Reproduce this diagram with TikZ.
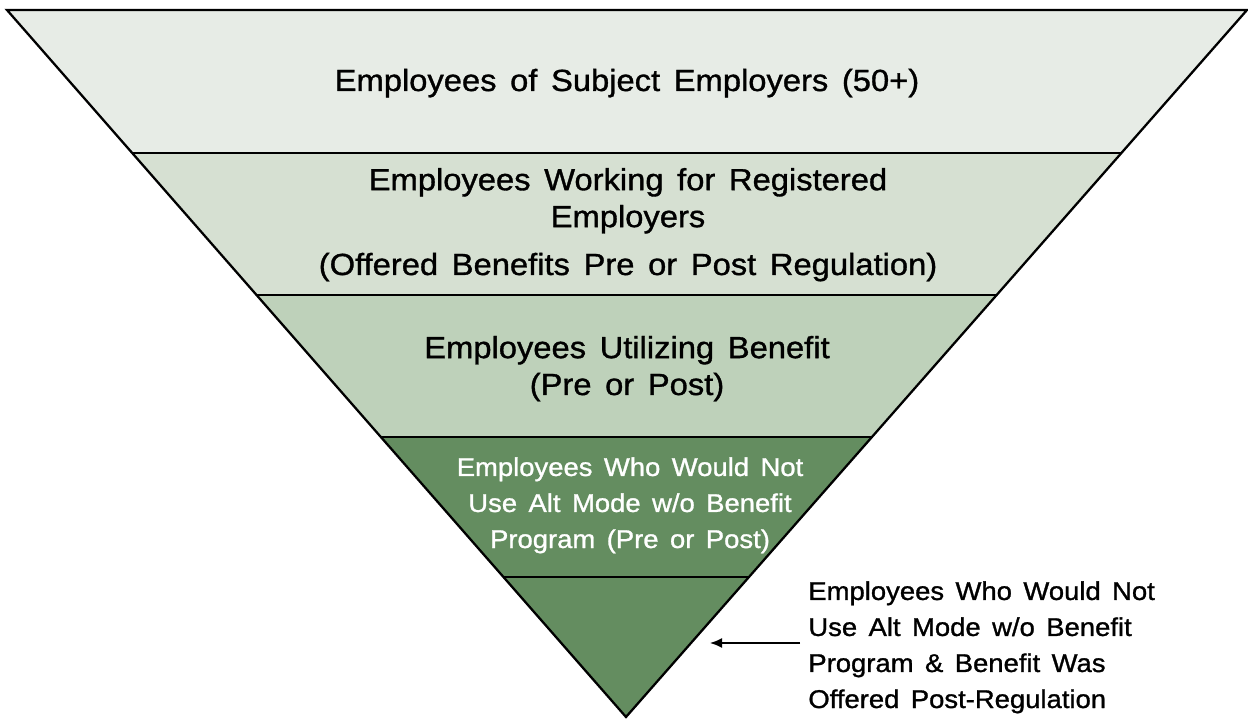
\documentclass[tikz,border=0pt]{standalone}
\usepackage{fontspec}
\setmainfont{Liberation Sans}[WordSpace=1.5,FakeStretch=1.07,FakeBold=1.1]
\usetikzlibrary{arrows.meta,calc,positioning}
\definecolor{tierA}{RGB}{231,236,230}
\definecolor{tierB}{RGB}{214,224,210}
\definecolor{tierC}{RGB}{190,209,186}
\definecolor{tierD}{RGB}{100,141,96}

\begin{document}
\begin{tikzpicture}[x=0.02cm,y=-0.02cm,>={Latex[length=2.4mm,width=2mm]},
  every node/.style={inner sep=0pt,align=center},
  big/.style={font=\fontsize{17.4}{21}\selectfont},
  small/.style={font=\fontsize{14.6}{20.5}\selectfont},
  rim/.style={draw,line width=1.3pt,line join=miter}]
\useasboundingbox (0,0) rectangle (1248,719);
% funnel corners and tier boundaries
\coordinate (tl) at (7,10); \coordinate (tr) at (1247,10); \coordinate (apex) at (626,717);
\foreach \i/\t in {1/0.2023,2/0.4031,3/0.6040,4/0.8020}{
  \coordinate (l\i) at ($(tl)!\t!(apex)$);
  \coordinate (r\i) at ($(tr)!\t!(apex)$);
}
\fill[tierA] (tl) -- (tr) -- (r1) -- (l1) -- cycle;
\fill[tierB] (l1) -- (r1) -- (r2) -- (l2) -- cycle;
\fill[tierC] (l2) -- (r2) -- (r3) -- (l3) -- cycle;
\fill[tierD] (l3) -- (r3) -- (apex) -- cycle;
\draw[rim] (tl) -- (tr) -- (apex) -- cycle;
\foreach \i in {1,...,4} \draw[rim] (l\i) -- (r\i);
% tier labels (base = last line)
\node[big,anchor=base] (subject) at (627,91) {Employees of Subject Employers (50+)};
\node[big,anchor=base] (registered) at (628,275) {Employees Working for Registered\\Employers\\[0.22cm](Offered Benefits Pre or Post Regulation)};
\node[big,anchor=base] (utilizing) at (627,395) {Employees Utilizing Benefit\\(Pre or Post)};
\node[small,anchor=base,text=white] (wouldnot) at (630,548) {Employees Who Would Not\\Use Alt Mode w/o Benefit\\Program (Pre or Post)};
\node[small,anchor=base west,align=left,inner xsep=1.6mm] (offered) at (800,708) {Employees Who Would Not\\Use Alt Mode w/o Benefit\\Program \& Benefit Was\\Offered Post-Regulation};
\coordinate (tip) at (710,643);
\draw[->,line width=0.9pt] (offered.west |- tip) -- (tip);
\end{tikzpicture}
\end{document}
